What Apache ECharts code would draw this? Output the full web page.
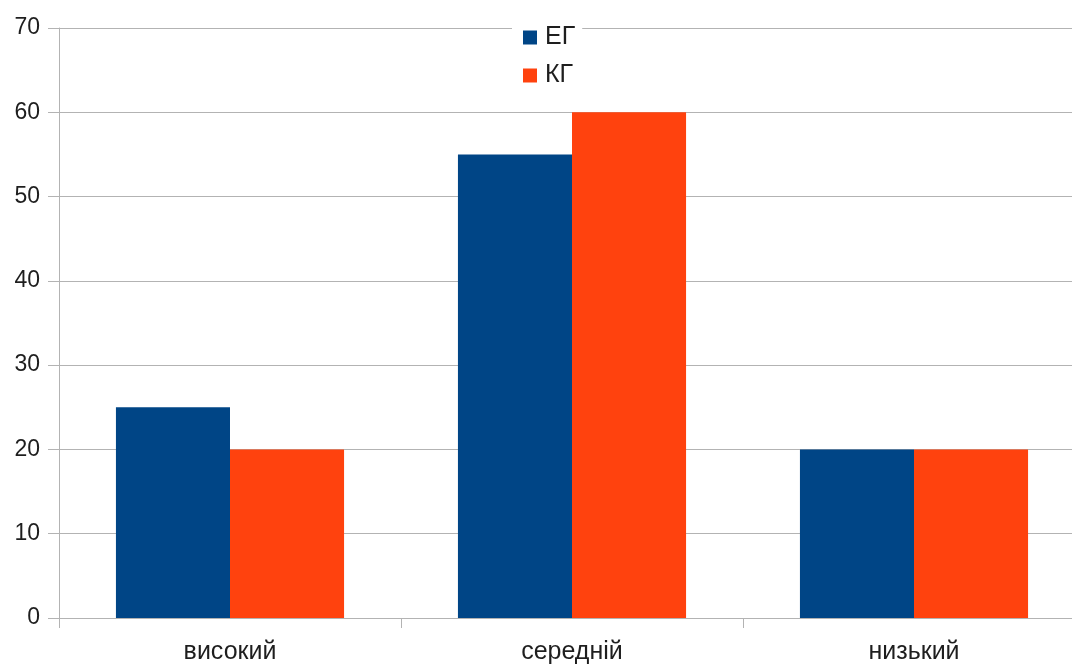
<!DOCTYPE html>
<html>
<head>
<meta charset="utf-8">
<script src="https://cdn.jsdelivr.net/npm/echarts@6/dist/echarts.min.js"></script>
<style>
  html, body { margin: 0; padding: 0; background: #fff; }
  #chart { width: 1072px; height: 666px; }
</style>
</head>
<body>
<div id="chart"></div>
<script>
// Level categories and group shares (%)
const categories = ['високий', 'середній', 'низький'];
const egValues = [25, 55, 20];
const kgValues = [20, 60, 20];
const yTicks = { min: 0, max: 70, step: 10 };

const gridColor = '#b3b3b3';
const textColor = '#1e1e1e';
const font = '"Liberation Sans", Arial, sans-serif';

const chart = echarts.init(document.getElementById('chart'));
chart.setOption({
  backgroundColor: '#fff',
  animation: false,
  textStyle: { fontFamily: font },
  // plot area runs past the right edge of the canvas
  grid: {
    left: 59, top: 28, width: 1026, bottom: 48,
    containLabel: false, outerBoundsMode: 'none'
  },
  legend: {
    orient: 'vertical',
    left: 512,
    top: 18,
    padding: [7, 7, 7, 11],
    backgroundColor: '#fff',
    itemWidth: 14,
    itemHeight: 14,
    itemGap: 13,
    icon: 'rect',
    textStyle: { fontSize: 25, color: textColor, fontFamily: font, padding: [0, 0, 0, 3] },
    data: ['ЕГ', 'КГ']
  },
  xAxis: {
    type: 'category',
    data: categories,
    axisLine: { lineStyle: { color: gridColor, width: 1 } },
    axisTick: { show: true, length: 10, lineStyle: { color: gridColor } },
    axisLabel: { fontSize: 25, color: textColor, margin: 22, fontFamily: font }
  },
  yAxis: {
    type: 'value',
    min: yTicks.min,
    max: yTicks.max,
    interval: yTicks.step,
    axisLine: { show: true, lineStyle: { color: gridColor, width: 1 } },
    axisTick: { show: true, length: 11, lineStyle: { color: gridColor } },
    splitLine: { show: true, lineStyle: { color: gridColor, width: 1 } },
    axisLabel: { fontSize: 23, color: textColor, margin: 19, fontFamily: font }
  },
  series: [
    {
      name: 'ЕГ', type: 'bar', data: egValues,
      itemStyle: { color: '#004586' },
      barGap: '0%', barCategoryGap: '33.3%'
    },
    {
      name: 'КГ', type: 'bar', data: kgValues,
      itemStyle: { color: '#ff420e' },
      barGap: '0%', barCategoryGap: '33.3%'
    }
  ]
});
</script>
</body>
</html>
